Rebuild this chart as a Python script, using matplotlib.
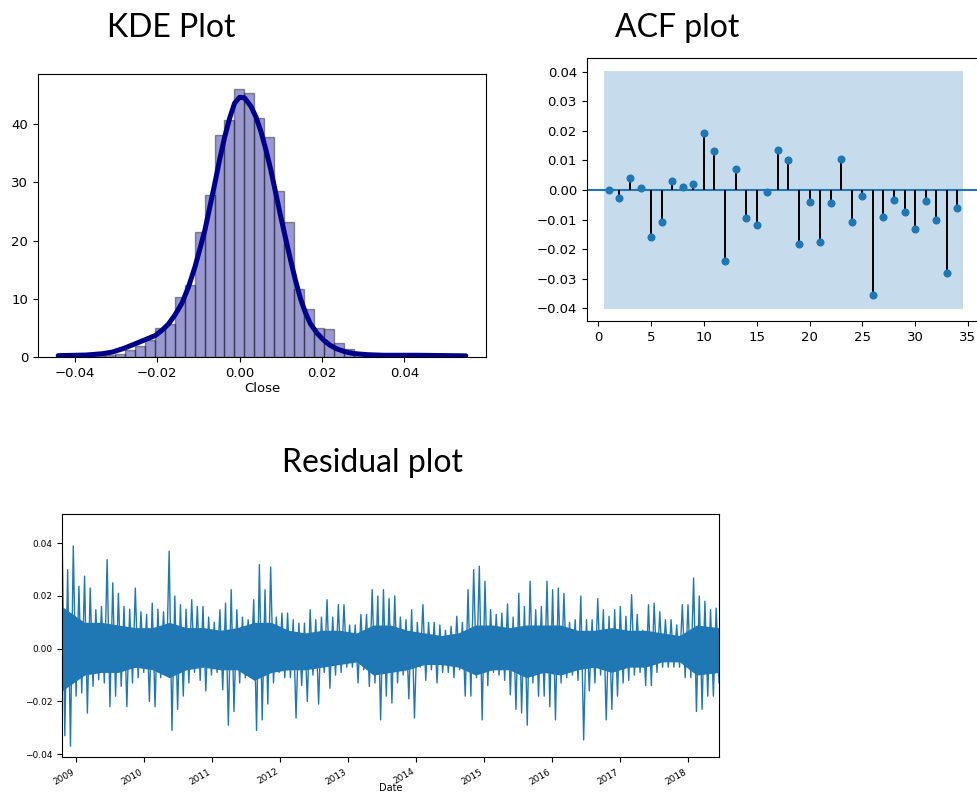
import matplotlib
matplotlib.use('Agg')
import matplotlib.pyplot as plt
import matplotlib.dates as mdates
import numpy as np
import pandas as pd

# --- KDE plot: histogram (density) of daily residuals + kde curve
hist_start = -0.0374
hist_width = 0.00241
hist_heights = [0.14, 0.14, 0.28, 0.58, 1.15, 1.9, 2.9, 4.9, 5.7, 10.3,
                12.3, 21.5, 27.8, 38.1, 40.7, 46.1, 45.3, 41.0, 37.8, 28.5,
                23.2, 11.7, 8.3, 4.9, 4.8, 2.4, 1.4, 0.7, 0.3, 0.14,
                0.0, 0.14, 0.0, 0.0, 0.14]
kde_x = [-0.044, -0.0372, -0.0332, -0.0308, -0.028, -0.0252, -0.0228, -0.0204,
         -0.0188, -0.0172, -0.0156, -0.014, -0.0124, -0.0108, -0.0096, -0.0084,
         -0.0072, -0.006, -0.0048, -0.0036, -0.0024, -0.0012, 0.0, 0.0012,
         0.0028, 0.004, 0.0052, 0.0064, 0.0076, 0.0088, 0.01, 0.0112, 0.0124,
         0.0136, 0.0148, 0.016, 0.0172, 0.0188, 0.0204, 0.022, 0.0236, 0.0256,
         0.0276, 0.031, 0.0348, 0.0428, 0.0549]
kde_y = [0.23, 0.34, 0.57, 0.86, 1.5, 2.3, 3.0, 3.7, 4.6, 5.7, 7.3, 9.2, 12.0,
         15.5, 18.6, 21.8, 25.8, 29.8, 34.0, 37.8, 41.0, 43.6, 44.6, 44.5, 43.0,
         41.2, 38.7, 35.6, 32.1, 28.1, 24.1, 20.3, 16.6, 13.1, 10.0, 7.6, 5.7,
         4.1, 2.9, 2.0, 1.4, 0.9, 0.6, 0.4, 0.3, 0.3, 0.2]

# --- ACF plot
acf_lags = list(range(1, 35))
acf_values = [0.0, -0.0028, 0.004, 0.0005, -0.016, -0.011, 0.003, 0.001, 0.002,
              0.0192, 0.013, -0.024, 0.0072, -0.0094, -0.0119, -0.0007, 0.0135,
              0.0101, -0.0182, -0.0042, -0.0177, -0.0045, 0.0105, -0.0109,
              -0.0022, -0.0355, -0.009, -0.0033, -0.0075, -0.0132, -0.0038,
              -0.0103, -0.028, -0.0062]
acf_conf = 0.0402

# --- Residual plot: monthly high / low of the residuals (Oct 2008 - Jun 2018)
resid_start = '2008-10-17'
resid_end = '2018-06-15'
resid_hi = [0.047, 0.030, 0.039, 0.0237, 0.0275, 0.023, 0.0148, 0.016, 0.0338, 0.025,
            0.021, 0.016, 0.015, 0.023, 0.014, 0.013, 0.0173, 0.015, 0.014, 0.037,
            0.020, 0.0167, 0.015, 0.0186, 0.016, 0.016, 0.012, 0.010, 0.0148, 0.0173,
            0.0224, 0.0148, 0.012, 0.011, 0.0186, 0.0319, 0.0224, 0.031, 0.012, 0.0135,
            0.0135, 0.011, 0.0097, 0.0097, 0.0148, 0.011, 0.012, 0.0186, 0.012, 0.0167,
            0.0167, 0.009, 0.009, 0.013, 0.013, 0.0224, 0.020, 0.0224, 0.019, 0.020,
            0.012, 0.011, 0.0148, 0.010, 0.0167, 0.010, 0.010, 0.009, 0.007, 0.0085,
            0.0123, 0.010, 0.0224, 0.030, 0.0313, 0.0256, 0.0148, 0.013, 0.0135, 0.017,
            0.012, 0.021, 0.016, 0.0256, 0.0148, 0.016, 0.0256, 0.0224, 0.023, 0.021,
            0.010, 0.011, 0.020, 0.011, 0.011, 0.019, 0.0148, 0.0123, 0.0148, 0.016,
            0.0123, 0.0205, 0.013, 0.007, 0.0167, 0.0173, 0.014, 0.011, 0.011, 0.009,
            0.0167, 0.0167, 0.0268, 0.020, 0.018, 0.0148, 0.0154]
resid_lo = [-0.033, -0.037, -0.018, -0.0168, -0.0244, -0.0143, -0.0118, -0.013, -0.022, -0.018,
            -0.0143, -0.022, -0.013, -0.011, -0.009, -0.020, -0.022, -0.011, -0.010, -0.031,
            -0.023, -0.018, -0.013, -0.009, -0.012, -0.016, -0.010, -0.009, -0.0156, -0.029,
            -0.0238, -0.013, -0.011, -0.008, -0.031, -0.027, -0.021, -0.013, -0.009, -0.011,
            -0.011, -0.0263, -0.014, -0.020, -0.010, -0.021, -0.009, -0.015, -0.010, -0.009,
            -0.007, -0.007, -0.013, -0.008, -0.0143, -0.013, -0.027, -0.018, -0.0206, -0.013,
            -0.010, -0.019, -0.0263, -0.007, -0.012, -0.008, -0.013, -0.009, -0.009, -0.011,
            -0.008, -0.018, -0.018, -0.011, -0.027, -0.014, -0.009, -0.010, -0.012, -0.0175,
            -0.023, -0.0244, -0.029, -0.013, -0.018, -0.018, -0.022, -0.027, -0.013, -0.011,
            -0.010, -0.012, -0.0346, -0.016, -0.013, -0.010, -0.027, -0.023, -0.018, -0.013,
            -0.012, -0.010, -0.009, -0.014, -0.014, -0.009, -0.007, -0.007, -0.007, -0.007,
            -0.011, -0.011, -0.0238, -0.023, -0.018, -0.018, -0.013]
# dense core of the residual band, per quarter (Q4 2008 .. Q2 2018)
core_hi = [0.016, 0.010, 0.010, 0.009, 0.008, 0.008, 0.010, 0.008, 0.008, 0.007,
           0.008, 0.010, 0.010, 0.007, 0.006, 0.007, 0.007, 0.006, 0.009, 0.009,
           0.007, 0.006, 0.005, 0.006, 0.009, 0.009, 0.008, 0.009, 0.009, 0.009,
           0.007, 0.007, 0.008, 0.007, 0.007, 0.006, 0.005, 0.009, 0.008]
core_lo = [-0.016, -0.010, -0.009, -0.009, -0.007, -0.008, -0.011, -0.008, -0.007, -0.008,
           -0.008, -0.012, -0.009, -0.008, -0.008, -0.007, -0.006, -0.005, -0.010, -0.009,
           -0.008, -0.006, -0.006, -0.007, -0.010, -0.008, -0.008, -0.011, -0.009, -0.010,
           -0.008, -0.007, -0.009, -0.007, -0.007, -0.005, -0.005, -0.010, -0.009]
year_ticks = list(range(2009, 2019))

W, H = 977, 792
fig = plt.figure(figsize=(W / 100, H / 100), dpi=100)


def px_axes(left, top, right, bottom):
    return fig.add_axes([left / W, 1 - bottom / H, (right - left) / W, (bottom - top) / H])


title_font = dict(family=['Lato', 'DejaVu Sans'], fontsize=23, ha='center', va='baseline')
fig.text(171 / W, 1 - 37 / H, 'KDE Plot', **title_font)
fig.text(677 / W, 1 - 37 / H, 'ACF plot', **title_font)
fig.text(372 / W, 1 - 472 / H, 'Residual plot', **title_font)

# KDE
ax1 = px_axes(38, 74, 486, 357)
edges = hist_start + hist_width * np.arange(len(hist_heights))
ax1.bar(edges, hist_heights, width=hist_width, align='edge', color='darkblue',
        alpha=0.4, edgecolor='black', linewidth=1)
ax1.plot(kde_x, kde_y, color='darkblue', linewidth=3.6, solid_capstyle='round')
ax1.set_xlim(-0.0489, 0.0598)
ax1.set_ylim(0, 48.6)
ax1.set_xticks([-0.04, -0.02, 0.0, 0.02, 0.04])
ax1.set_yticks([0, 10, 20, 30, 40])
ax1.tick_params(labelsize=9.5)
ax1.set_xlabel('Close', fontsize=9.5, labelpad=2)

# ACF
ax2 = px_axes(586.7, 58, 979.6, 321)
ax2.fill_between([0.5, 34.5], -acf_conf, acf_conf, color='C0', alpha=0.25, linewidth=0)
ax2.axhline(0, color='C0', linewidth=1.5)
ax2.vlines(acf_lags, 0, acf_values, color='black', linewidth=1.4)
ax2.plot(acf_lags, acf_values, 'o', color='C0', markersize=4.8)
ax2.set_xlim(-1.1, 36.1)
ax2.set_ylim(-0.0443, 0.0446)
ax2.set_xticks(range(0, 40, 5))
ax2.set_yticks(np.round(np.arange(-0.04, 0.041, 0.01), 2))
ax2.tick_params(labelsize=9.5)

# Residuals
ax3 = px_axes(62, 513.5, 719, 757.3)
t0, t1 = pd.Timestamp(resid_start), pd.Timestamp(resid_end)
q_mid = list(pd.date_range('2008-10-01', periods=len(core_hi), freq='QS') + pd.Timedelta(days=45))
core_t = [t0] + q_mid[1:-1] + [t1]
ax3.fill_between(core_t, core_lo, core_hi, color='C0', linewidth=0)
times = pd.date_range(resid_start, resid_end, periods=2 * len(resid_hi))
series = np.column_stack([resid_hi, resid_lo]).ravel()
ax3.plot(times, series, color='C0', linewidth=1.0)
ax3.set_xlim(t0, t1)
ax3.set_ylim(-0.0412, 0.0513)
ax3.set_yticks([-0.04, -0.02, 0.0, 0.02, 0.04])
ax3.set_xticks([pd.Timestamp(f'{y}-01-01') for y in year_ticks])
ax3.xaxis.set_major_formatter(mdates.DateFormatter('%Y'))
ax3.tick_params(labelsize=6.5)
for lab in ax3.get_xticklabels():
    lab.set_rotation(30)
    lab.set_ha('right')
ax3.set_xlabel('Date', fontsize=7, labelpad=-2)

fig.savefig('out.png', dpi=100)
